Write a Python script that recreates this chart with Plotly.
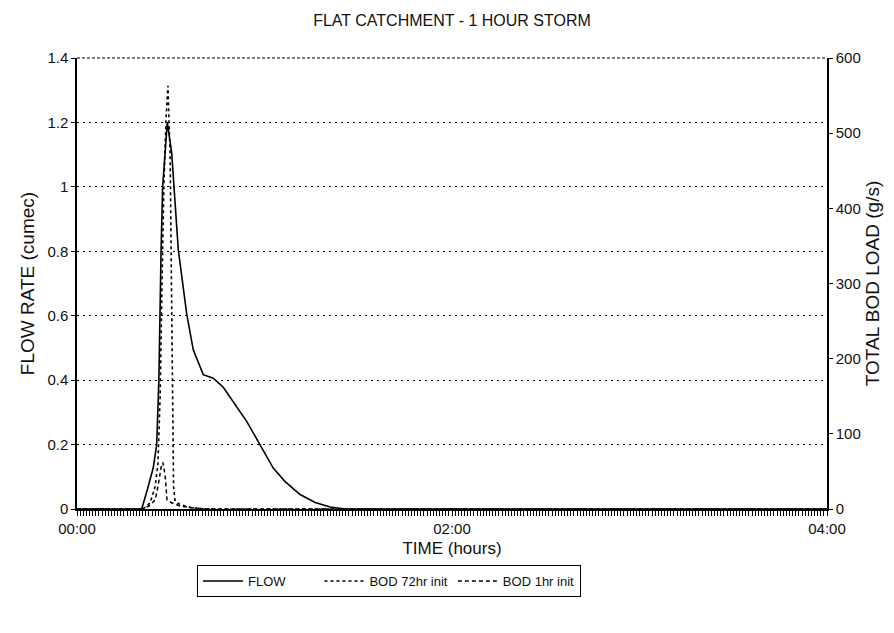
import plotly.graph_objects as go

# time in minutes from start
flow_t = [0, 20.7, 22.5, 24.4, 25.5, 26.2, 26.9, 27.4, 28.9, 30.3, 32.4, 35.1, 37.2,
          40.4, 43.6, 46.8, 54.3, 58.6, 62.8, 66.6, 71.4, 76.2, 81.0, 85.8, 240]
flow_v = [0, 0, 0.06, 0.128, 0.2, 0.4, 0.8, 1.0, 1.2, 1.106, 0.806, 0.606, 0.494,
          0.417, 0.406, 0.378, 0.272, 0.2, 0.127, 0.085, 0.045, 0.02, 0.006, 0.0, 0]

bod72_t = [0, 21.1, 23.4, 25.0, 25.9, 26.6, 27.2, 27.8, 28.5, 29.1, 29.8, 30.2, 30.6,
           30.9, 31.4, 33.0, 36.2, 39.4, 45.8, 240]
bod72_v = [0, 0, 8, 30, 60, 150, 300, 430, 520, 563, 470, 300, 150,
           30, 10, 6, 2, 0.5, 0, 0]

bod1_t = [0, 21.1, 23.4, 25.0, 25.9, 26.9, 27.5, 28.2, 28.8, 30.4, 33.0, 37.8, 42.6, 240]
bod1_v = [0, 0, 5, 12, 30, 55, 62, 45, 12, 8, 4, 1, 0, 0]

x_label_vals = [0, 120, 240]
x_label_text = ["00:00", "02:00", "04:00"]

# one tick per minute, labelled only at the hour marks above
tick_vals = list(range(0, 241))
tick_text = [x_label_text[x_label_vals.index(v)] if v in x_label_vals else ""
             for v in tick_vals]

FONT = "Liberation Sans, Arial, sans-serif"
W, H = 886, 625

fig = go.Figure()
fig.add_trace(go.Scatter(x=flow_t, y=flow_v, mode="lines",
                         name="FLOW" + "\u00a0" * 8,
                         line=dict(color="black", width=1.6, dash="solid")))
fig.add_trace(go.Scatter(x=bod72_t, y=bod72_v, mode="lines", name="BOD 72hr init",
                         yaxis="y2", line=dict(color="black", width=1.6, dash="dot")))
fig.add_trace(go.Scatter(x=bod1_t, y=bod1_v, mode="lines", name="BOD 1hr init",
                         yaxis="y2", line=dict(color="black", width=1.5, dash="4px,3px")))

fig.update_layout(
    width=W, height=H,
    margin=dict(l=69, r=67, t=50, b=124, autoexpand=False),
    paper_bgcolor="white", plot_bgcolor="white",
    font=dict(family=FONT, size=14, color="#111"),
    title=dict(text="FLAT CATCHMENT - 1 HOUR STORM", x=(375 + 69) / W, xanchor="center",
               y=1 - 12 / H, yanchor="middle", font=dict(size=16)),
    xaxis=dict(range=[0, 240], tickmode="array", tickvals=tick_vals, ticktext=tick_text,
               ticks="outside", ticklen=5, tickwidth=1, tickcolor="black",
               showline=True, linecolor="black", linewidth=1.5,
               showgrid=False, zeroline=False,
               tickfont=dict(size=15),
               title=dict(text="TIME (hours)", standoff=6, font=dict(size=17))),
    yaxis=dict(range=[0, 1.4], dtick=0.2, ticks="outside", ticklen=4,
               tickcolor="black", showline=True, linecolor="black", linewidth=1.5,
               showgrid=True, gridcolor="black", gridwidth=1.3, griddash="2px,4px",
               zeroline=False, automargin=False, tickfont=dict(size=15),
               title=dict(text="FLOW RATE (cumec)", standoff=8, font=dict(size=19))),
    yaxis2=dict(range=[0, 600], dtick=100, overlaying="y", side="right",
                ticks="outside", ticklen=4, tickcolor="black",
                showline=True, linecolor="black", linewidth=1.5,
                showgrid=False, zeroline=False, automargin=False,
                tickfont=dict(size=15),
                title=dict(text="TOTAL BOD LOAD (g/s)", standoff=6, font=dict(size=19))),
    legend=dict(orientation="h", x=(197 - 77) / 750, xanchor="left",
                y=-(565 - 509) / 451, yanchor="top",
                bordercolor="black", borderwidth=1, bgcolor="white",
                font=dict(size=13), itemwidth=40, tracegroupgap=0),
    showlegend=True,
)

# top frame line of the plot area
fig.add_shape(type="line", xref="paper", yref="paper", x0=0, x1=1, y0=1, y1=1,
              line=dict(color="black", width=1.2, dash="3px,2px"))

fig.write_html("out.html")
